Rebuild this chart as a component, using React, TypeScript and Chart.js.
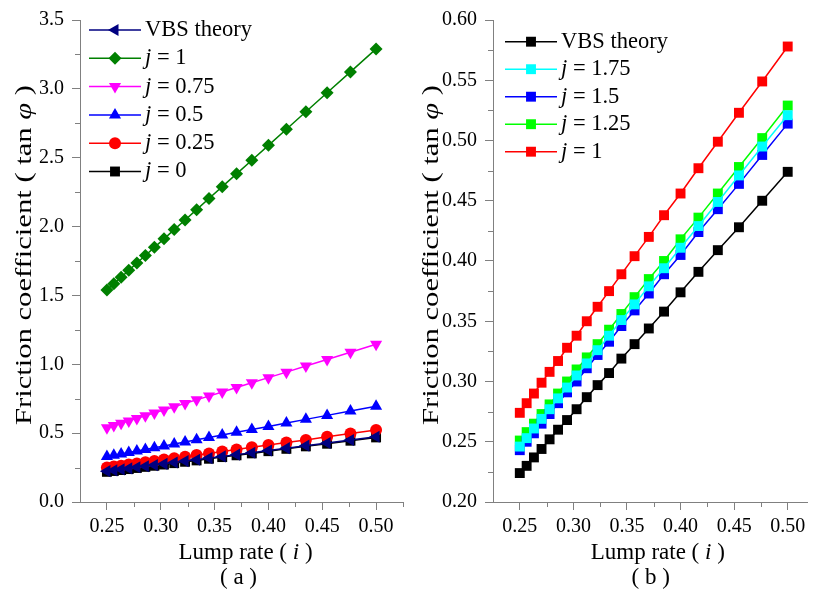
import React, { useEffect, useRef } from 'react';
import { Chart, registerables } from 'chart.js';

Chart.register(...registerables);

// ---------- data ----------
const lumpRate = [0.25, 0.2564, 0.2632, 0.2703, 0.2778, 0.2857, 0.2941, 0.303, 0.3125, 0.3226, 0.3333, 0.3448, 0.3571, 0.3704, 0.3846, 0.4, 0.4167, 0.4348, 0.4545, 0.4762, 0.5];

const vbsTheory = [0.224, 0.23, 0.237, 0.244, 0.252, 0.26, 0.268, 0.277, 0.287, 0.297, 0.307, 0.319, 0.331, 0.344, 0.358, 0.374, 0.391, 0.409, 0.428, 0.45, 0.474];

// panel (a)
const aJ1 = [1.54, 1.585, 1.632, 1.682, 1.735, 1.79, 1.849, 1.911, 1.978, 2.048, 2.123, 2.204, 2.29, 2.383, 2.482, 2.59, 2.707, 2.834, 2.972, 3.123, 3.29];
const aJ075 = [0.54, 0.555, 0.572, 0.589, 0.607, 0.626, 0.647, 0.668, 0.691, 0.716, 0.742, 0.769, 0.799, 0.831, 0.866, 0.903, 0.943, 0.987, 1.035, 1.087, 1.145];
const aJ05 = [0.33, 0.339, 0.349, 0.36, 0.371, 0.382, 0.394, 0.407, 0.421, 0.436, 0.452, 0.468, 0.486, 0.506, 0.527, 0.549, 0.573, 0.6, 0.629, 0.66, 0.695];
const aJ025 = [0.25, 0.257, 0.264, 0.272, 0.28, 0.289, 0.298, 0.308, 0.318, 0.329, 0.341, 0.353, 0.367, 0.381, 0.397, 0.414, 0.432, 0.451, 0.473, 0.497, 0.523];
const aJ0 = [0.219, 0.225, 0.232, 0.239, 0.247, 0.255, 0.263, 0.272, 0.282, 0.292, 0.302, 0.314, 0.326, 0.339, 0.353, 0.369, 0.386, 0.404, 0.423, 0.445, 0.469];

// panel (b)
const bJ175 = [0.246, 0.253, 0.261, 0.269, 0.277, 0.286, 0.295, 0.305, 0.315, 0.326, 0.338, 0.351, 0.364, 0.379, 0.394, 0.411, 0.429, 0.449, 0.471, 0.495, 0.521];
const bJ15 = [0.243, 0.25, 0.257, 0.265, 0.273, 0.282, 0.291, 0.3, 0.311, 0.322, 0.333, 0.346, 0.359, 0.373, 0.389, 0.405, 0.424, 0.443, 0.464, 0.488, 0.514];
const bJ125 = [0.251, 0.258, 0.265, 0.273, 0.281, 0.29, 0.3, 0.31, 0.32, 0.331, 0.343, 0.356, 0.37, 0.385, 0.4, 0.418, 0.436, 0.456, 0.478, 0.502, 0.529];
const bJ1 = [0.274, 0.282, 0.29, 0.299, 0.308, 0.317, 0.328, 0.338, 0.35, 0.362, 0.375, 0.389, 0.404, 0.42, 0.438, 0.456, 0.477, 0.499, 0.523, 0.549, 0.578];

// ticks
const xTicks = [0.25, 0.3, 0.35, 0.4, 0.45, 0.5];
const xMinor = [0.275, 0.325, 0.375, 0.425, 0.475, 0.525];
const aYTicks = [0, 0.5, 1, 1.5, 2, 2.5, 3, 3.5];
const aYMinor = [0.25, 0.75, 1.25, 1.75, 2.25, 2.75, 3.25];
const bYTicks = [0.2, 0.25, 0.3, 0.35, 0.4, 0.45, 0.5, 0.55, 0.6];
const bYMinor = [0.225, 0.275, 0.325, 0.375, 0.425, 0.475, 0.525, 0.575];

const FONT = '"Liberation Serif", "Times New Roman", serif';
const AXIS = '#808080';

type Seg = { t: string; i?: boolean };
type Series = { label: Seg[]; data: number[]; color: string; style: string; rot: number; r: number };

const seriesA: Series[] = [
  { label: [{ t: 'VBS theory' }], data: vbsTheory, color: '#000080', style: 'triangle', rot: 270, r: 7 },
  { label: [{ t: 'j', i: true }, { t: ' = 1' }], data: aJ1, color: '#008000', style: 'rectRot', r: 6.5, rot: 0 },
  { label: [{ t: 'j', i: true }, { t: ' = 0.75' }], data: aJ075, color: '#FF00FF', style: 'triangle', rot: 180, r: 7 },
  { label: [{ t: 'j', i: true }, { t: ' = 0.5' }], data: aJ05, color: '#0000FF', style: 'triangle', rot: 0, r: 7 },
  { label: [{ t: 'j', i: true }, { t: ' = 0.25' }], data: aJ025, color: '#FF0000', style: 'circle', rot: 0, r: 6 },
  { label: [{ t: 'j', i: true }, { t: ' = 0' }], data: aJ0, color: '#000000', style: 'rect', rot: 0, r: 7 },
];

const seriesB: Series[] = [
  { label: [{ t: 'VBS theory' }], data: vbsTheory, color: '#000000', style: 'rect', rot: 0, r: 7 },
  { label: [{ t: 'j', i: true }, { t: ' = 1.75' }], data: bJ175, color: '#00FFFF', style: 'rect', rot: 0, r: 7 },
  { label: [{ t: 'j', i: true }, { t: ' = 1.5' }], data: bJ15, color: '#0000FF', style: 'rect', rot: 0, r: 7 },
  { label: [{ t: 'j', i: true }, { t: ' = 1.25' }], data: bJ125, color: '#00FF00', style: 'rect', rot: 0, r: 7 },
  { label: [{ t: 'j', i: true }, { t: ' = 1' }], data: bJ1, color: '#FF0000', style: 'rect', rot: 0, r: 7 },
];

function drawRich(ctx: CanvasRenderingContext2D, segs: Seg[], x: number, y: number, size: number, align: 'left' | 'center') {
  const widths = segs.map((s) => {
    ctx.font = `${s.i ? 'italic ' : ''}${size}px ${FONT}`;
    return ctx.measureText(s.t).width;
  });
  const total = widths.reduce((a, b) => a + b, 0);
  let cx = align === 'center' ? x - total / 2 : x;
  ctx.textBaseline = 'middle';
  ctx.textAlign = 'left';
  ctx.fillStyle = '#000';
  segs.forEach((s, k) => {
    ctx.font = `${s.i ? 'italic ' : ''}${size}px ${FONT}`;
    ctx.fillText(s.t, cx, y);
    cx += widths[k];
  });
}

function drawMarker(ctx: CanvasRenderingContext2D, style: string, x: number, y: number, r: number, rot: number, color: string) {
  ctx.save();
  ctx.fillStyle = color;
  ctx.beginPath();
  if (style === 'circle') ctx.arc(x, y, r, 0, Math.PI * 2);
  else if (style === 'rect') {
    const h = r * Math.SQRT1_2;
    ctx.rect(x - h, y - h, 2 * h, 2 * h);
  } else if (style === 'rectRot') {
    ctx.moveTo(x, y - r);
    ctx.lineTo(x + r, y);
    ctx.lineTo(x, y + r);
    ctx.lineTo(x - r, y);
    ctx.closePath();
  } else {
    let rad = (rot * Math.PI) / 180;
    for (let k = 0; k < 3; k++) {
      const px = x + Math.sin(rad) * r;
      const py = y - Math.cos(rad) * r;
      if (k === 0) ctx.moveTo(px, py);
      else ctx.lineTo(px, py);
      rad += (2 * Math.PI) / 3;
    }
    ctx.closePath();
  }
  ctx.fill();
  ctx.restore();
}

type PanelCfg = {
  series: Series[];
  xMin: number;
  xMax: number;
  yMin: number;
  yMax: number;
  yTicks: number[];
  yMinor: number[];
  yDigits: number;
  yAxisWidth: number;
  padRight: number;
  yTitleX: number;
  legendX: number;
  legendY: number;
  legendRow: number;
  panel: string;
};

function buildChart(canvas: HTMLCanvasElement, p: PanelCfg) {
  const deco = {
    id: 'deco',
    afterDraw(chart: any) {
      const ctx: CanvasRenderingContext2D = chart.ctx;
      const xs = chart.scales.x;
      const ys = chart.scales.y;
      const area = chart.chartArea;
      ctx.save();
      // minor ticks
      ctx.strokeStyle = AXIS;
      ctx.lineWidth = 1;
      ctx.beginPath();
      xMinor.forEach((v) => {
        if (v <= p.xMin || v > p.xMax) return;
        const px = Math.round(xs.getPixelForValue(v)) + 0.5;
        ctx.moveTo(px, area.bottom);
        ctx.lineTo(px, area.bottom + 5);
      });
      p.yMinor.forEach((v) => {
        const py = Math.round(ys.getPixelForValue(v)) + 0.5;
        ctx.moveTo(area.left, py);
        ctx.lineTo(area.left - 5, py);
      });
      ctx.stroke();

      // x title and panel label
      const cx = xs.getPixelForValue(0.375);
      drawRich(ctx, [{ t: 'Lump rate ( ' }, { t: 'i', i: true }, { t: ' )' }], cx + 4, 553, 23, 'center');
      drawRich(ctx, [{ t: p.panel }], cx - 3, 578, 23, 'center');

      // y title (stretched along its length, as in the source figure)
      ctx.save();
      ctx.translate(p.yTitleX, (area.top + area.bottom) / 2 - 6);
      ctx.rotate(-Math.PI / 2);
      ctx.scale(1.33, 1);
      drawRich(ctx, [{ t: 'Friction coefficient ( tan ' }, { t: 'φ', i: true }, { t: ' )' }], 0, 0, 23, 'center');
      ctx.restore();

      // legend
      p.series.forEach((s, k) => {
        const y = p.legendY + k * p.legendRow;
        ctx.strokeStyle = s.color;
        ctx.lineWidth = 1.5;
        ctx.beginPath();
        ctx.moveTo(p.legendX, y);
        ctx.lineTo(p.legendX + 52, y);
        ctx.stroke();
        drawMarker(ctx, s.style, p.legendX + 26, y, s.r, s.rot, s.color);
        drawRich(ctx, s.label, p.legendX + 56, y, 22.5, 'left');
      });
      ctx.restore();
    },
  };

  return new Chart(canvas, {
    type: 'line',
    data: {
      datasets: p.series.map((s) => ({
        label: s.label.map((g) => g.t).join(''),
        data: lumpRate.map((x, k) => ({ x, y: s.data[k] })),
        borderColor: s.color,
        backgroundColor: s.color,
        borderWidth: 1.5,
        pointStyle: s.style as any,
        pointRotation: s.rot,
        pointRadius: s.r,
        pointHoverRadius: s.r,
        pointBorderWidth: 0,
        pointBackgroundColor: s.color,
        tension: 0,
        fill: false,
      })),
    },
    options: {
      responsive: false,
      animation: false,
      events: [],
      layout: { padding: { left: 0, top: 15, right: p.padRight, bottom: 0 } },
      plugins: { legend: { display: false }, tooltip: { enabled: false } },
      scales: {
        x: {
          type: 'linear',
          min: p.xMin,
          max: p.xMax,
          afterFit: (s: any) => {
            s.height = 93;
          },
          afterBuildTicks: (s: any) => {
            s.ticks = xTicks.map((v) => ({ value: v }));
          },
          ticks: {
            autoSkip: false,
            maxRotation: 0,
            padding: 5,
            color: '#000',
            font: { family: FONT, size: 20 },
            callback: (v: any) => Number(v).toFixed(2),
          },
          grid: { drawOnChartArea: false, tickLength: 8, tickColor: AXIS, tickWidth: 1 },
          border: { color: AXIS, width: 1 },
        },
        y: {
          type: 'linear',
          min: p.yMin,
          max: p.yMax,
          afterFit: (s: any) => {
            s.width = p.yAxisWidth;
          },
          afterBuildTicks: (s: any) => {
            s.ticks = p.yTicks.map((v) => ({ value: v }));
          },
          ticks: {
            autoSkip: false,
            padding: 8,
            color: '#000',
            font: { family: FONT, size: 20 },
            callback: (v: any) => Number(v).toFixed(p.yDigits),
          },
          grid: { drawOnChartArea: false, tickLength: 8, tickColor: AXIS, tickWidth: 1 },
          border: { color: AXIS, width: 1 },
        },
      },
    },
    plugins: [deco],
  } as any);
}

export default function App() {
  const refA = useRef<HTMLCanvasElement>(null);
  const refB = useRef<HTMLCanvasElement>(null);

  useEffect(() => {
    const a = buildChart(refA.current!, {
      series: seriesA,
      xMin: 0.225,
      xMax: 0.525,
      yMin: 0,
      yMax: 3.5,
      yTicks: aYTicks,
      yMinor: aYMinor,
      yDigits: 1,
      yAxisWidth: 80,
      padRight: 3,
      yTitleX: 25,
      legendX: 89,
      legendY: 30,
      legendRow: 28.3,
      panel: '( a )',
    });
    const b = buildChart(refB.current!, {
      series: seriesB,
      xMin: 0.225,
      xMax: 0.518,
      yMin: 0.2,
      yMax: 0.6,
      yTicks: bYTicks,
      yMinor: bYMinor,
      yDigits: 2,
      yAxisWidth: 83,
      padRight: 1,
      yTitleX: 22,
      legendX: 95,
      legendY: 41.7,
      legendRow: 27.5,
      panel: '( b )',
    });
    return () => {
      a.destroy();
      b.destroy();
    };
  }, []);

  return (
    <div style={{ position: 'fixed', left: 0, top: 0, width: 814, height: 595, background: '#fff' }}>
      <canvas ref={refA} width={410} height={595} style={{ position: 'absolute', left: 0, top: 0 }} />
      <canvas ref={refB} width={404} height={595} style={{ position: 'absolute', left: 410, top: 0 }} />
    </div>
  );
}
